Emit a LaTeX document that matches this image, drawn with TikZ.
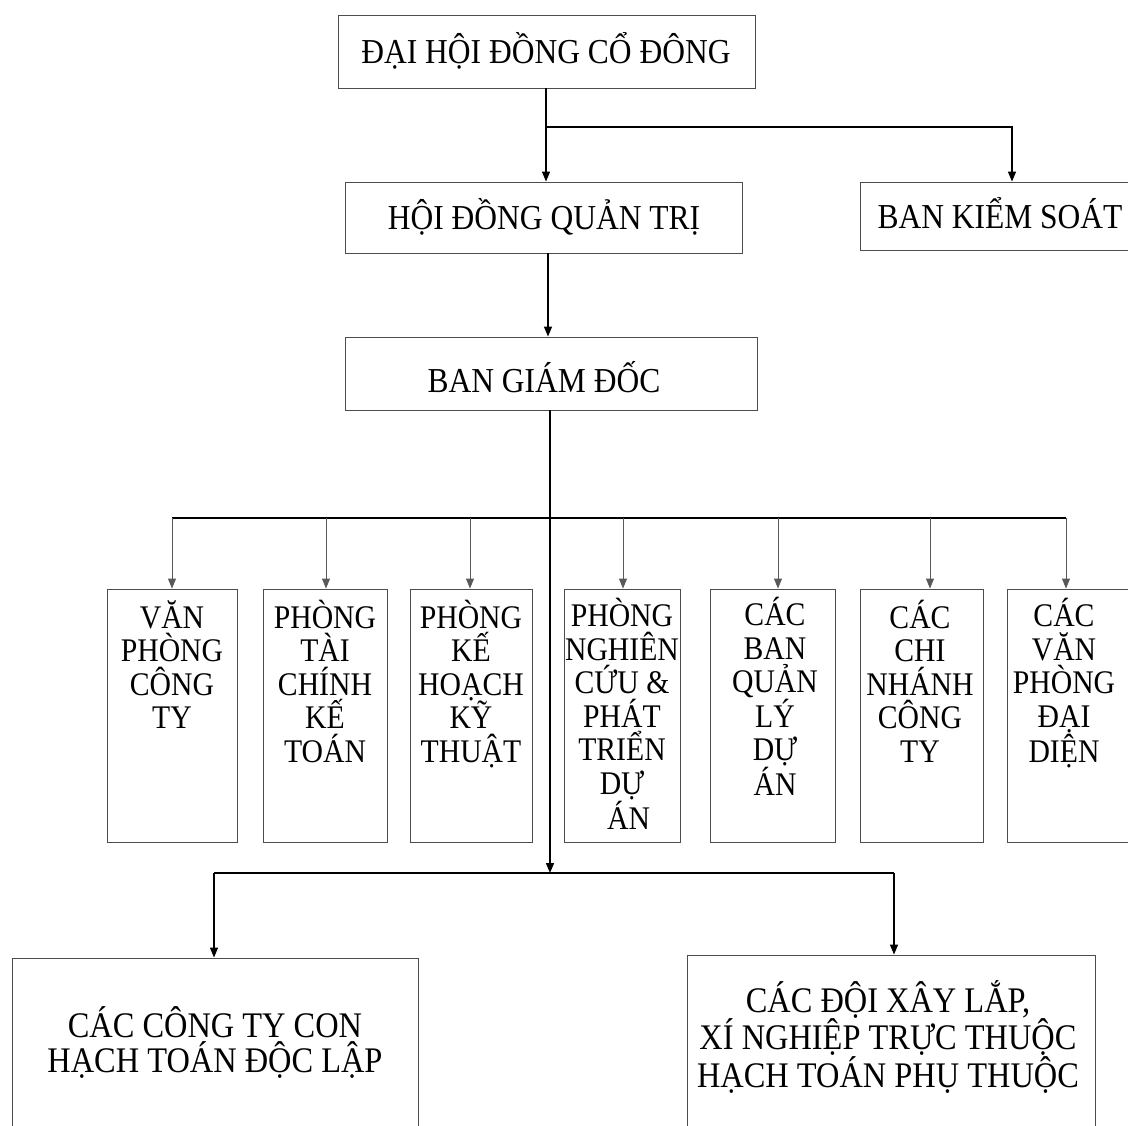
\documentclass[tikz,border=0pt]{standalone}
\usepackage{fontspec}
\setmainfont[FakeStretch=0.9]{Liberation Serif}
\usetikzlibrary{arrows.meta}
\begin{document}
\begin{tikzpicture}[x=1pt,y=-1pt,
  box/.style={draw=black!70, line width=0.9pt, rectangle, inner sep=0pt},
  conn/.style={draw=black, line width=1.4pt},
  thin conn/.style={draw=black!65, line width=0.9pt},
  arr/.style={-{Triangle[length=10pt,width=8pt]}},
  big/.style={font=\fontsize{35}{40}\selectfont, inner sep=0pt, anchor=base},
  mid/.style={font=\fontsize{33}{33.5}\selectfont, inner sep=0pt, align=center, anchor=base},
  lowl/.style={font=\fontsize{36}{35}\selectfont, inner sep=0pt, align=center, anchor=base},
  lowr/.style={font=\fontsize{36}{37.5}\selectfont, inner sep=0pt, align=center, anchor=base}
]
\useasboundingbox (0,0) rectangle (1128,1126);

% top level boxes
\node[box, minimum width=417pt, minimum height=73pt] (dh) at (546.5,51.5) {};
\node[big] (dht) at (546,64) {ĐẠI HỘI ĐỒNG CỔ ĐÔNG};
\node[box, minimum width=397pt, minimum height=71pt] (hd) at (543.5,217.5) {};
\node[big] (hdt) at (544,230) {HỘI ĐỒNG QUẢN TRỊ};
\node[box, minimum width=304pt, minimum height=68pt] (bks) at (1012,216) {};
\node[big] (bkst) at (1000,229) {BAN KIỂM SOÁT};
\node[box, minimum width=412pt, minimum height=73pt] (bgd) at (551,373.5) {};
\node[big] (bgdt) at (544,392) {BAN GIÁM ĐỐC};

% middle boxes (top 589, bottom 842)
\node[box, minimum width=130pt, minimum height=253pt] (b1) at (172,715.5) {};
\node[box, minimum width=124pt, minimum height=253pt] (b2) at (325,715.5) {};
\node[box, minimum width=122pt, minimum height=253pt] (b3) at (471,715.5) {};
\node[box, minimum width=116pt, minimum height=253pt] (b4) at (622,715.5) {};
\node[box, minimum width=125pt, minimum height=253pt] (b5) at (772.5,715.5) {};
\node[box, minimum width=123pt, minimum height=253pt] (b6) at (921.5,715.5) {};
\node[box, minimum width=130pt, minimum height=253pt] (b7) at (1072,715.5) {};

% texts: anchor=base is the baseline of the last line (first baseline 628, pitch 33.5)
\node[mid] (t1) at (172,728.5) {VĂN\\PHÒNG\\CÔNG\\TY};
\node[mid] (t2) at (325,762) {PHÒNG\\TÀI\\CHÍNH\\KẾ\\TOÁN};
\node[mid] (t3) at (471,762) {PHÒNG\\KẾ\\HOẠCH\\KỸ\\THUẬT};
\node[mid] (t4) at (622,829) {PHÒNG\\NGHIÊN\\CỨU \&\\PHÁT\\TRIỂN\\DỰ\\\hspace*{0.4em}ÁN};
\node[mid] (t5) at (775,795.5) {CÁC\\BAN\\QUẢN\\LÝ\\DỰ\\ÁN};
\node[mid] (t6) at (920,762) {CÁC\\CHI\\NHÁNH\\CÔNG\\TY};
\node[mid] (t7) at (1064,762) {CÁC\\VĂN\\PHÒNG\\ĐẠI\\DIỆN};

% bottom boxes
\node[box, minimum width=406pt, minimum height=200pt] (bl) at (215,1058) {};
\node[box, minimum width=408pt, minimum height=200pt] (br) at (891,1055) {};
\node[lowl] (blt) at (215,1072) {CÁC CÔNG TY CON\\HẠCH TOÁN ĐỘC LẬP};
\node[lowr] (brt) at (888,1087) {CÁC ĐỘI XÂY LẮP,\\XÍ NGHIỆP TRỰC THUỘC\\HẠCH TOÁN PHỤ THUỘC};

% connectors top
\coordinate (j1) at (546,127);
\draw[conn,arr] (546,88) coordinate (s1) -- (s1 |- hd.north);
\draw[conn,arr] (j1) -| (bks.north);
\coordinate (s2) at (548,253);
\draw[conn,arr] (s2) -- (s2 |- bgd.north);

% main trunk
\coordinate (s3) at (550,410);
\coordinate (j3) at (550,873);
\draw[conn,arr] (s3) -- (j3);

% middle bar
\coordinate (h1) at (172,518);
\coordinate (h2) at (326,518);
\coordinate (h3) at (470,518);
\coordinate (h4) at (623,518);
\coordinate (h5) at (778,518);
\coordinate (h6) at (930,518);
\coordinate (h7) at (1066,518);
\draw[conn] (h1) -- (h7);
\draw[thin conn,arr] (h1) -- (h1 |- b1.north);
\draw[thin conn,arr] (h2) -- (h2 |- b2.north);
\draw[thin conn,arr] (h3) -- (h3 |- b3.north);
\draw[thin conn,arr] (h4) -- (h4 |- b4.north);
\draw[thin conn,arr] (h5) -- (h5 |- b5.north);
\draw[thin conn,arr] (h6) -- (h6 |- b6.north);
\draw[thin conn,arr] (h7) -- (h7 |- b7.north);

% bottom bar
\coordinate (k1) at (214,873);
\coordinate (k2) at (894,873);
\draw[conn] (k1) -- (k2);
\draw[conn,arr] (k1) -- (k1 |- bl.north);
\draw[conn,arr] (k2) -- (k2 |- br.north);
\end{tikzpicture}
\end{document}
